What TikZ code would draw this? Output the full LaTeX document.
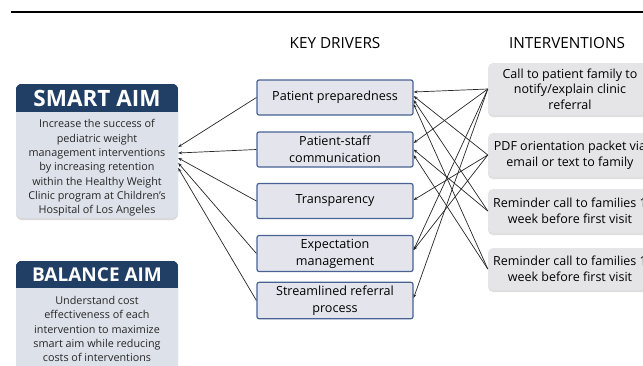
\documentclass[tikz,border=0pt]{standalone}
\usepackage{fontspec}
\setmainfont{Open Sans}
\usetikzlibrary{arrows.meta,shadows}

\definecolor{aimnavy}{RGB}{33,62,101}
\definecolor{aimfill}{RGB}{221,226,234}
\definecolor{drvfill}{RGB}{228,229,236}
\definecolor{drvline}{RGB}{72,98,148}
\definecolor{intfill}{RGB}{229,229,232}

\tikzset{
  aimbox/.style={fill=aimfill, rounded corners=6pt, minimum width=162pt,
    drop shadow={shadow xshift=0pt, shadow yshift=-2pt, fill=black!30}},
  aimtitle/.style={text=white, font=\fontsize{22.5}{24}\selectfont\bfseries},
  aimtext/.style={align=center, text=black!85, font=\fontsize{10.8}{14.3}\selectfont},
  driver/.style={draw=drvline, line width=1.2pt, fill=drvfill, rounded corners=2pt,
    minimum width=156pt, minimum height=35pt, align=center,
    font=\fontsize{12.6}{17}\selectfont},
  interv/.style={fill=intfill, rounded corners=5pt, minimum width=164pt, align=center,
    font=\fontsize{12.5}{15.5}\selectfont,
    drop shadow={shadow xshift=0pt, shadow yshift=-2pt, fill=black!25}},
  heading/.style={font=\fontsize{15.3}{17}\selectfont},
  link/.style={-{Stealth[length=4pt,width=3pt]}, line width=0.7pt, black!85}
}

\begin{document}
\begin{tikzpicture}[x=1pt,y=1pt]
\useasboundingbox (0,0) rectangle (643,-365);
\draw[line width=1.2pt] (11,-12) -- (643,-12);

\node[heading] (kdhead) at (335,-43) {KEY DRIVERS};
\node[heading] (ivhead) at (567,-43) {INTERVENTIONS};

% smart aim
\node[aimbox, minimum height=134pt] (smart) at (97,-151) {};
\begin{scope}
\clip[rounded corners=6pt] (smart.south west) rectangle (smart.north east);
\fill[aimnavy] (smart.north west) rectangle ([yshift=-28pt]smart.north east);
\end{scope}
\node[aimtitle] (smarttitle) at (97,-98) {SMART AIM};
\node[aimtext] (smarttext) at (97,-168) {Increase the success of\\pediatric weight\\management interventions\\by increasing retention\\within the Healthy Weight\\Clinic program at Children’s\\Hospital of Los Angeles};

% balance aim
\node[aimbox, minimum height=114pt] (balance) at (97,-318) {};
\begin{scope}
\clip[rounded corners=6pt] (balance.south west) rectangle (balance.north east);
\fill[aimnavy] (balance.north west) rectangle ([yshift=-27pt]balance.north east);
\end{scope}
\node[aimtitle, font=\fontsize{19}{21}\selectfont\bfseries] (balancetitle) at (97,-275) {BALANCE AIM};
\node[aimtext] (balancetext) at (97,-329) {Understand cost\\effectiveness of each\\intervention to maximize\\smart aim while reducing\\costs of interventions};

% key drivers
\node[driver] (d1) at (335,-97.5) {Patient preparedness};
\node[driver] (d2) at (335,-149.5) {Patient-staff\\communication};
\node[driver] (d3) at (335,-201) {Transparency};
\node[driver] (d4) at (335,-253.5) {Expectation\\management};
\node[driver] (d5) at (335,-300.5) {Streamlined referral\\process};

% interventions
\node[interv, minimum height=52pt] (i1) at (570,-89) {Call to patient family to\\notify/explain clinic\\referral};
\node[interv, minimum height=44pt] (i2) at (570,-155) {PDF orientation packet via\\email or text to family};
\node[interv, minimum height=44pt] (i3) at (570,-211) {Reminder call to families 1\\week before first visit};
\node[interv, minimum height=42pt] (i4) at (570,-269) {Reminder call to families 1\\week before first visit};

% drivers to smart aim
\draw[link] (d1.west) -- ([yshift=4pt]smart.east);
\draw[link] (d2.west) -- ([yshift=-2pt]smart.east);
\draw[link] (d3.west) -- ([yshift=-7pt]smart.east);
\draw[link] (d4.west) -- ([yshift=-12pt]smart.east);
\draw[link] (d5.west) -- ([yshift=-17pt]smart.east);

% interventions to drivers
\draw[link] (i1.west) -- ([yshift=5.5pt]d1.east);
\draw[link] (i1.west) -- ([yshift=6.5pt]d2.east);
\draw[link] (i1.west) -- ([yshift=3.5pt]d4.east);
\draw[link] (i1.west) -- ([yshift=2.5pt]d5.east);
\draw[link] (i2.west) -- ([yshift=1.5pt]d1.east);
\draw[link] (i2.west) -- ([yshift=1pt]d3.east);
\draw[link] (i2.west) -- ([yshift=3.5pt]d4.east);
\draw[link] (i3.west) -- ([yshift=-2.5pt]d1.east);
\draw[link] (i3.west) -- (d2.east);
\draw[link] (i4.west) -- ([yshift=-6.5pt]d1.east);
\draw[link] (i4.west) -- ([yshift=-5.5pt]d2.east);

\end{tikzpicture}
\end{document}
